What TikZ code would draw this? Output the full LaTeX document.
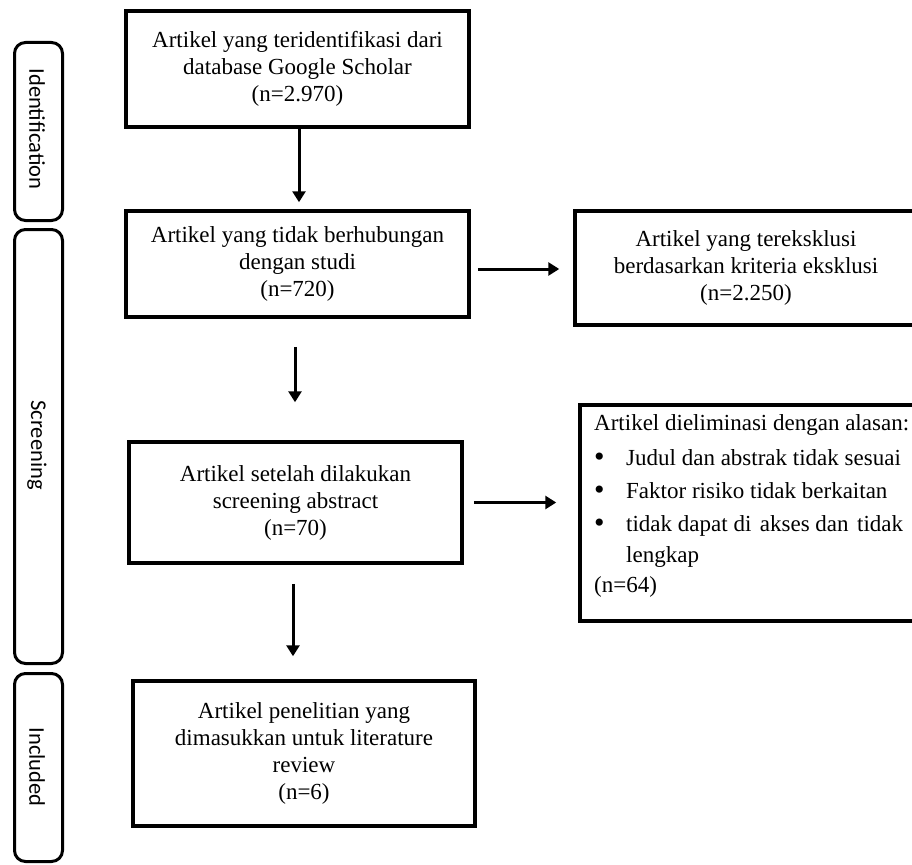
\documentclass[tikz,border=0pt]{standalone}
\usepackage{fontspec}
\setmainfont{Liberation Serif}
\newfontfamily\sidefont{Carlito}
\usetikzlibrary{arrows.meta}
\begin{document}
\begin{tikzpicture}[x=1pt,y=-1pt,
  flowbox/.style={draw,line width=3.5pt,inner sep=0pt,align=center,
    font=\fontsize{23}{27}\selectfont},
  sidebar/.style={draw,line width=3pt,rounded corners=11pt,inner sep=0pt,
    minimum width=48pt},
  sidetext/.style={rotate=-90,font=\sidefont\fontsize{22.5}{26}\selectfont},
  listtext/.style={anchor=base west,inner sep=0pt,font=\fontsize{23}{27}\selectfont},
  arr/.style={line width=3pt,-{Triangle[width=13pt,length=11pt]}}]
\useasboundingbox (0,0) rectangle (912,864);
\begin{scope}
\clip (0,0) rectangle (912,864);
% side bars
\node[sidebar,minimum height=178pt] (s1) at (38.5,131.5) {};
\node[sidetext] (s1t) at (37,129) {Identification};
\node[sidebar,minimum height=434pt] (s2) at (38.5,446.5) {};
\node[sidetext] (s2t) at (37,445) {Screening};
\node[sidebar,minimum height=188pt] (s3) at (38.5,767.5) {};
\node[sidetext] (s3t) at (37,767) {Included};
% boxes
\node[flowbox,minimum width=343pt,minimum height=116pt] (b1) at (297.5,69)
  {Artikel yang teridentifikasi dari\\database Google Scholar\\(n=2.970)};
\node[flowbox,minimum width=343pt,minimum height=106pt] (b2) at (297.5,264)
  {Artikel yang tidak berhubungan\\dengan studi\\(n=720)};
\node[flowbox,minimum width=342pt,minimum height=114pt] (b3) at (746,268)
  {Artikel yang tereksklusi\\berdasarkan kriteria eksklusi\\(n=2.250)};
\node[flowbox,minimum width=340pt,minimum height=216pt] (b4) at (750,513) {};
\node[flowbox,minimum width=333pt,minimum height=121pt] (b5) at (295.5,502.5)
  {Artikel setelah dilakukan\\screening abstract\\(n=70)};
\node[flowbox,minimum width=342pt,minimum height=145pt] (b6) at (304,753.5)
  {Artikel penelitian yang\\dimasukkan untuk literature\\review\\(n=6)};
% list text in b4
\node[listtext] (l1) at (594,430) {Artikel dieliminasi dengan alasan:};
\node[listtext] (d1) at (594,466) {\scalebox{1.3}{\textbullet}};
\node[listtext] (l2) at (626,465) {Judul dan abstrak tidak sesuai};
\node[listtext] (d2) at (594,499) {\scalebox{1.3}{\textbullet}};
\node[listtext] (l3) at (626,498) {Faktor risiko tidak berkaitan};
\node[listtext] (d3) at (594,532) {\scalebox{1.3}{\textbullet}};
\node[listtext] (l4) at (626,531) {tidak dapat di\hspace{0.12em} akses dan\hspace{0.12em} tidak};
\node[listtext] (l5) at (626,562) {lengkap};
\node[listtext] (l6) at (594,592) {(n=64)};
% arrows
\draw[arr,shorten >=7pt] ([xshift=1.5pt]b1.south) -- ([xshift=1.5pt]b2.north);
\draw[arr,shorten <=7pt,shorten >=14pt] ([yshift=-5pt]b2.east) -- ([yshift=-5pt]b2.east -| b3.west);
\draw[arr,shorten <=28pt,shorten >=38pt] ([xshift=-2.5pt]b2.south) -- ([xshift=-2.5pt]b2.south |- b5.north);
\draw[arr,shorten <=19pt,shorten >=23pt] ([xshift=-2.5pt]b5.south) -- ([xshift=-2.5pt]b5.south |- b6.north);
\draw[arr,shorten <=10pt,shorten >=22pt] (b5.east) -- (b5.east -| b4.west);
\end{scope}
\end{tikzpicture}
\end{document}
